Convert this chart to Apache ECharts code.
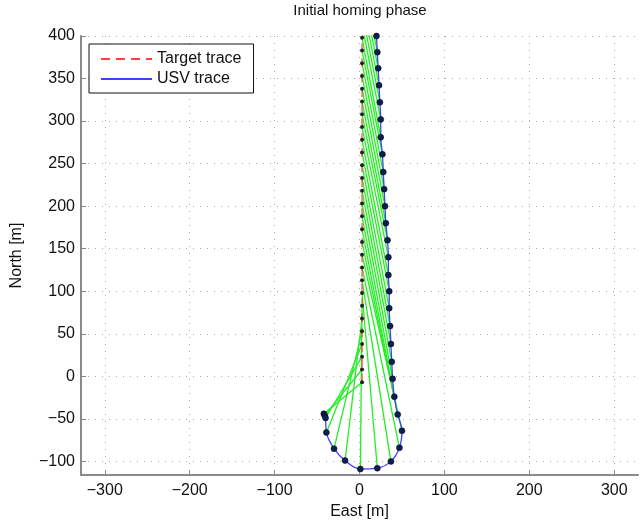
<!DOCTYPE html>
<html>
<head>
<meta charset="utf-8">
<title>Initial homing phase</title>
<script src="https://cdn.jsdelivr.net/npm/echarts@6/dist/echarts.min.js"></script>
<style>
html, body { margin: 0; padding: 0; background: #fff; }
#main { width: 644px; height: 522px; }
</style>
</head>
<body>
<div id="main"></div>
<script>
// USV positions at each time step [m]
var usvEast  = [-42, -41, -40, -39, -30, -17, 1, 21, 37, 47, 50, 45, 41, 39, 38, 37, 36, 35, 35, 34,
                34, 33, 31, 30, 29, 28, 27, 25, 25, 24, 23, 22, 21, 20];
var usvNorth = [-44, -46, -49, -66, -85, -99, -109, -108, -100, -84, -64, -45, -24, -3, 17, 38, 59, 80, 100, 119,
                140, 160, 180, 200, 220, 240, 261, 281, 302, 322, 342, 362, 381, 400];
// target positions at the same time steps [m] (the last ones lie above the plot and get clipped)
var targetEast  = [3, 3, 3, 3, 3, 3, 3, 3, 3, 3, 3, 3, 3, 3, 3, 3, 3, 3, 3, 3,
                   3, 3, 3, 3, 3, 3, 3, 3, 3, 3, 3, 3, 3, 3];
var targetNorth = [-7, 8, 23, 38, 53, 68, 83, 98, 113, 128, 143, 158, 173, 188, 203, 218, 233, 248, 263, 278,
                   293, 308, 323, 338, 353, 368, 383, 398, 413, 428, 443, 458, 473, 488];
var eastTicks  = [-300, -200, -100, 0, 100, 200, 300];
var northTicks = [-100, -50, 0, 50, 100, 150, 200, 250, 300, 350, 400];

var font = "'Liberation Sans', Arial, Helvetica, sans-serif";
var axisGray = '#8a8a8a';

function pairs(xs, ys) {
    var out = [];
    for (var i = 0; i < xs.length; i++) out.push([xs[i], ys[i]]);
    return out;
}
function tickText(list) {
    return function (v) {
        var r = Math.round(v);
        if (Math.abs(v - r) > 1e-6 || list.indexOf(r) < 0) return '';
        return String(r).replace('-', '\u2212');
    };
}

var usvPts = pairs(usvEast, usvNorth);
var targetPts = pairs(targetEast, targetNorth);
var sightLines = [];
for (var i = 0; i < usvPts.length; i++) {
    sightLines.push({ coords: [usvPts[i], targetPts[i]] });
}

var chart = echarts.init(document.getElementById('main'));
var option = {
    backgroundColor: '#fff',
    animation: false,
    textStyle: { fontFamily: font },
    title: {
        text: 'Initial homing phase',
        left: 360,
        top: 3,
        padding: 0,
        textAlign: 'center',
        textStyle: { fontSize: 15, fontWeight: 'normal', color: '#111', fontFamily: font }
    },
    legend: {
        orient: 'vertical',
        left: 89,
        top: 44,
        padding: [7, 12, 6, 11],
        itemGap: 4,
        itemWidth: 51,
        itemHeight: 14,
        backgroundColor: '#fff',
        borderColor: '#111',
        borderWidth: 1,
        borderRadius: 0,
        itemStyle: { opacity: 0 },
        textStyle: { fontSize: 16, color: '#111', fontFamily: font },
        data: ['Target trace', 'USV trace']
    },
    grid: { left: 81, right: 6, top: 36, bottom: 47, outerBoundsMode: 'none' },
    xAxis: {
        type: 'value',
        min: -328,
        max: 328,
        splitNumber: 6,
        name: 'East [m]',
        nameLocation: 'middle',
        nameGap: 28,
        nameTextStyle: { fontSize: 16, color: '#111', fontFamily: font },
        axisLine: { onZero: false, lineStyle: { color: axisGray, width: 2 } },
        axisTick: { inside: true, length: 5, lineStyle: { color: axisGray } },
        axisLabel: { fontSize: 16, color: '#111', margin: 8, showMinLabel: false, showMaxLabel: false,
                     formatter: tickText(eastTicks) },
        splitLine: { show: true, showMinLine: false, showMaxLine: false,
                     lineStyle: { color: '#aaa', width: 1, type: [1, 6] } }
    },
    yAxis: {
        type: 'value',
        min: -116,
        max: 400,
        splitNumber: 10,
        name: 'North [m]',
        nameLocation: 'middle',
        nameGap: 56,
        nameTextStyle: { fontSize: 16, color: '#111', fontFamily: font },
        axisLine: { onZero: false, lineStyle: { color: axisGray, width: 2 } },
        axisTick: { inside: true, length: 5, lineStyle: { color: axisGray } },
        axisLabel: { fontSize: 16, color: '#111', margin: 6, showMinLabel: false,
                     formatter: tickText(northTicks) },
        splitLine: { show: true, showMinLine: false,
                     lineStyle: { color: '#aaa', width: 1, type: [1, 6] } }
    },
    series: [
        {
            name: 'sight',
            type: 'lines',
            coordinateSystem: 'cartesian2d',
            clip: true,
            silent: true,
            z: 2,
            lineStyle: { color: '#22ee22', width: 1.3, opacity: 1, curveness: 0 },
            data: sightLines
        },
        {
            name: 'Target trace',
            type: 'line',
            z: 3,
            symbol: 'none',
            lineStyle: { color: '#ff4040', width: 1.2, type: [9, 6] },
            itemStyle: { color: '#ff4040' },
            data: targetPts
        },
        {
            name: 'USV trace',
            type: 'line',
            z: 3,
            symbol: 'none',
            smooth: 0.35,
            lineStyle: { color: '#4040ff', width: 1.3 },
            itemStyle: { color: '#4040ff' },
            data: usvPts
        },
        {
            name: 'target pos',
            type: 'scatter',
            z: 4,
            symbolSize: 4,
            itemStyle: { color: '#222', opacity: 1 },
            data: targetPts
        },
        {
            name: 'usv pos',
            type: 'scatter',
            z: 4,
            symbolSize: 6,
            itemStyle: { color: '#0c1f55', borderColor: '#000', borderWidth: 0.5, opacity: 1 },
            data: usvPts
        }
    ]
};
chart.setOption(option);
</script>
</body>
</html>
